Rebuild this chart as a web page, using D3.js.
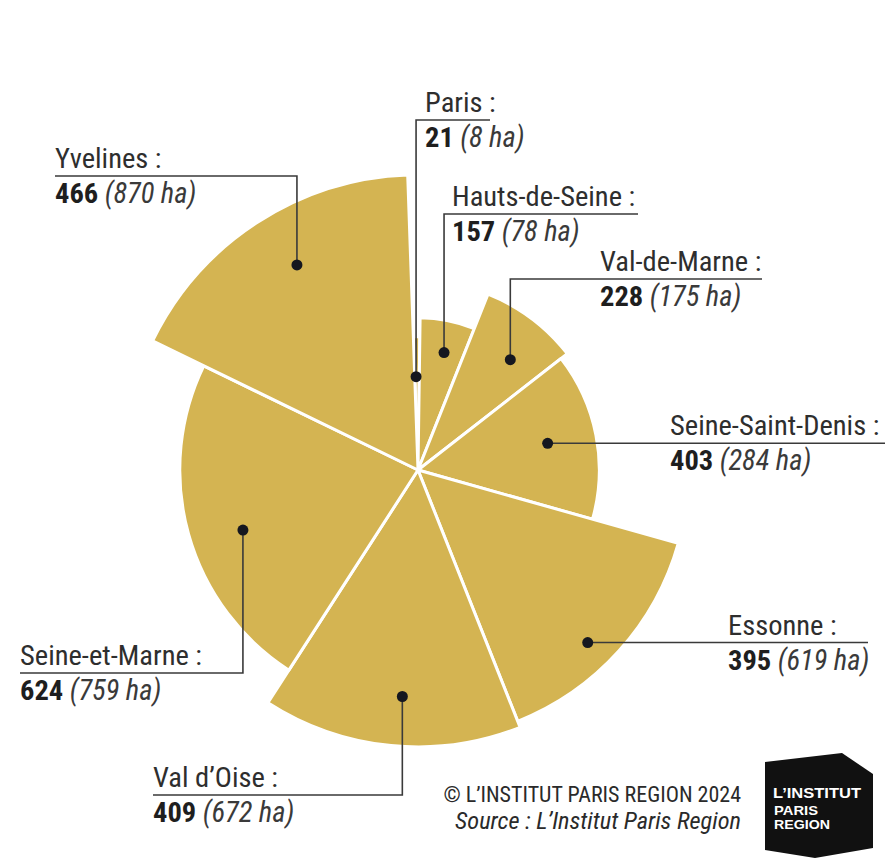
<!DOCTYPE html>
<html>
<head>
<meta charset="utf-8">
<script src="https://cdn.jsdelivr.net/npm/d3@7"></script>
<style>
  html, body { margin: 0; padding: 0; background: #fff; }
  svg { display: block; }
  .lbl { font-family: "Liberation Sans Narrow", "Roboto Condensed", "DejaVu Sans Condensed", "Liberation Sans", sans-serif; font-stretch: condensed; }
</style>
</head>
<body>
<svg id="chart" width="891" height="862"></svg>
<script>
// ---- Data ----
const departments = ["Paris", "Hauts-de-Seine", "Val-de-Marne", "Seine-Saint-Denis", "Essonne", "Val d\u2019Oise", "Seine-et-Marne", "Yvelines"];
const counts = [21, 157, 228, 403, 395, 409, 624, 466];
const hectares = [8, 78, 175, 284, 619, 672, 759, 870];
const copyrightText = "\u00A9 L\u2019INSTITUT PARIS REGION 2024";
const sourceText = "Source : L\u2019Institut Paris Region";

// ---- Layout (annotation placement only) ----
const labelLayout = [
  { t: 0.29, rf: 0.70, mode: "v", textX: 425, lineY: 120, otherX: 490 },
  { t: 0.56, rf: 0.79, mode: "v", textX: 452, lineY: 214, otherX: 638 },
  { t: 0.60, rf: 0.76, mode: "v", textX: 600, lineY: 279, otherX: 762 },
  { t: 0.49, rf: 0.73, mode: "h", textX: 670, otherX: 885 },
  { t: 0.565, rf: 0.895, mode: "h", textX: 728, otherX: 868 },
  { t: 0.47, rf: 0.82, mode: "v", textX: 153, lineY: 795, otherX: 153 },
  { t: 0.46, rf: 0.777, mode: "v", textX: 20, lineY: 673, otherX: 20 },
  { t: 0.54, rf: 0.807, mode: "v", textX: 55, lineY: 176, otherX: 55 }
];

const cx = 418, cy = 470;
const gold = "#d4b452";
const svg = d3.select("#chart");

const rows = departments.map((d, i) => ({ name: d, count: counts[i], ha: hectares[i], density: hectares[i] / counts[i] }));

const rScale = d3.scaleSqrt().domain([0, 1]).range([0, 216]);
const startOffset = -2 * Math.PI / 180;
const pie = d3.pie().sort(null).value(d => d.count)
  .startAngle(startOffset).endAngle(startOffset + 2 * Math.PI);
const arcs = pie(rows);
const arc = d3.arc().innerRadius(0).outerRadius(d => rScale(d.data.density));

const g = svg.append("g").attr("transform", `translate(${cx},${cy})`);
g.selectAll("path.slice").data(arcs).join("path")
  .attr("class", "slice")
  .attr("d", arc)
  .attr("fill", gold)
  .attr("stroke", "#fff")
  .attr("stroke-width", 3)
  .attr("stroke-linejoin", "round");

// ---- Labels ----
const lineColor = "#3a3a3a";
const ann = svg.append("g");
arcs.forEach((a, i) => {
  const L = labelLayout[i];
  const ang = a.startAngle + (a.endAngle - a.startAngle) * L.t;
  const r = rScale(a.data.density) * L.rf;
  const dx = cx + r * Math.sin(ang);
  const dy = cy - r * Math.cos(ang);
  let lineY;
  if (L.mode === "v") {
    lineY = L.lineY;
    ann.append("path")
      .attr("d", `M${dx},${dy}V${lineY}H${L.otherX}`)
      .attr("fill", "none").attr("stroke", lineColor).attr("stroke-width", 1.6);
  } else {
    lineY = dy;
    ann.append("path")
      .attr("d", `M${dx},${dy}H${L.otherX}`)
      .attr("fill", "none").attr("stroke", lineColor).attr("stroke-width", 1.6);
  }
  ann.append("circle").attr("cx", dx).attr("cy", dy).attr("r", 5.5).attr("fill", "#15171f");

  ann.append("text").attr("class", "lbl")
    .attr("x", L.textX).attr("y", lineY - 8)
    .attr("font-size", 28.5).attr("fill", "#2e2e2e")
    .text(a.data.name + " :");
  const v = ann.append("text").attr("class", "lbl")
    .attr("x", L.textX).attr("y", lineY + 27)
    .attr("font-size", 28.5);
  v.append("tspan").attr("font-weight", "bold").attr("fill", "#1e1e1e").text(a.data.count);
  v.append("tspan").attr("font-style", "italic").attr("fill", "#3a3a3a").text(` (${a.data.ha} ha)`);
});

// ---- Credits ----
svg.append("text").attr("class", "lbl")
  .attr("x", 741).attr("y", 802).attr("text-anchor", "end")
  .attr("font-size", 22).attr("fill", "#2a2a2a").text(copyrightText);
svg.append("text").attr("class", "lbl")
  .attr("x", 741).attr("y", 829).attr("text-anchor", "end")
  .attr("font-size", 23.5).attr("font-style", "italic").attr("fill", "#2a2a2a")
  .attr("textLength", 286).attr("lengthAdjust", "spacingAndGlyphs").text(sourceText);

// ---- Logo ----
const logo = svg.append("g");
logo.append("path")
  .attr("d", "M765,762L842,753L873,774L873,848L815,858L765,850Z")
  .attr("fill", "#111");
const logoFont = "'Liberation Sans', Arial, sans-serif";
logo.append("text").attr("x", 773).attr("y", 798)
  .attr("font-family", logoFont).attr("font-weight", "bold").attr("font-size", 15)
  .attr("fill", "#fff").attr("textLength", 88).attr("lengthAdjust", "spacingAndGlyphs").text("L\u2019INSTITUT");
logo.append("text").attr("x", 774).attr("y", 815)
  .attr("font-family", logoFont).attr("font-weight", "bold").attr("font-size", 13)
  .attr("fill", "#fff").attr("textLength", 44).attr("lengthAdjust", "spacingAndGlyphs").text("PARIS");
logo.append("text").attr("x", 774).attr("y", 829)
  .attr("font-family", logoFont).attr("font-weight", "bold").attr("font-size", 13)
  .attr("fill", "#fff").attr("textLength", 56).attr("lengthAdjust", "spacingAndGlyphs").text("REGION");
</script>
</body>
</html>
